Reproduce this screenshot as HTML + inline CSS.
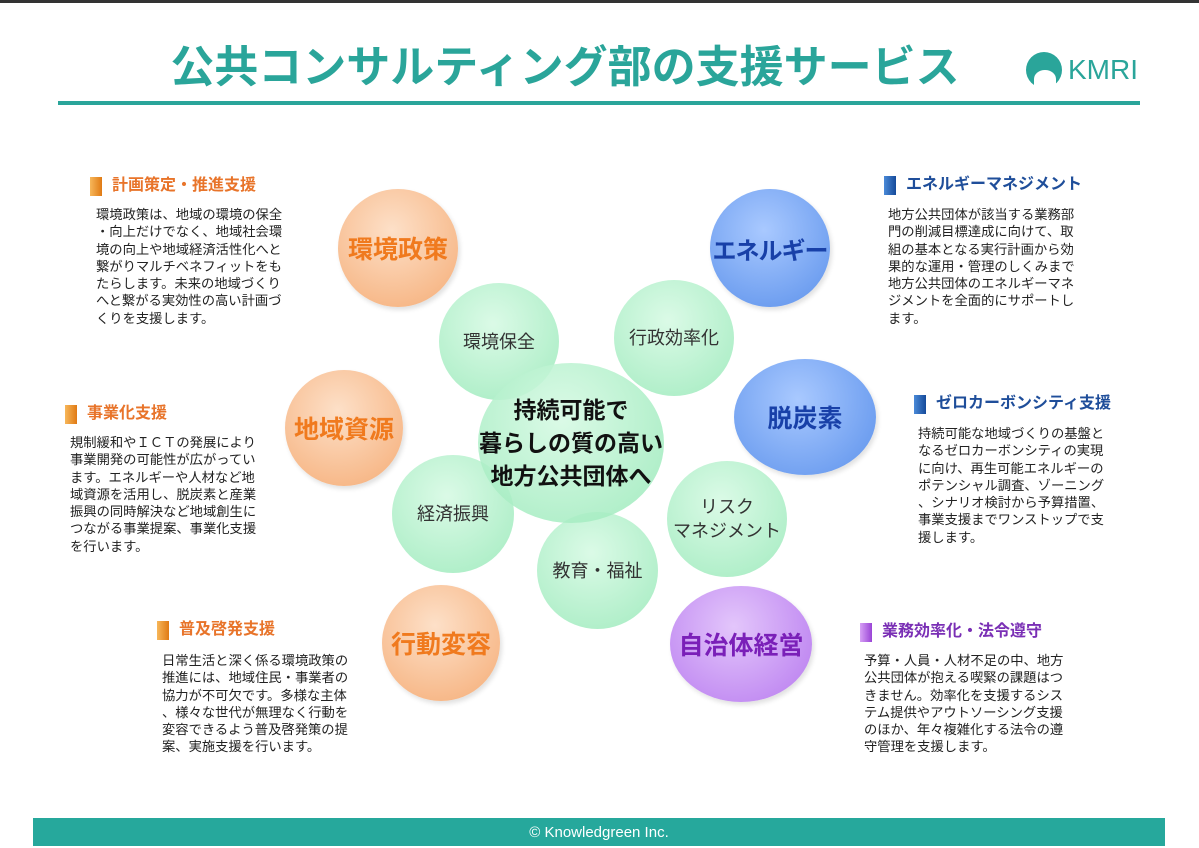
<!DOCTYPE html>
<html><head><meta charset="utf-8"><style>
*{margin:0;padding:0;box-sizing:border-box}
body{width:1199px;height:846px;background:#fff;position:relative;overflow:hidden;font-family:"Liberation Sans","Noto Sans CJK JP",sans-serif;}
.top{position:absolute;left:0;top:0;width:1199px;height:3px;background:#333}
.title{position:absolute;left:100px;width:930px;top:38px;text-align:center;font-size:44px;font-weight:bold;color:#2aa59a;line-height:60px}
.logo{position:absolute;left:1026px;top:52px;width:36px;height:36px;border-radius:50%;background:#2aa59a}
.logo:after{content:"";position:absolute;left:8px;top:18px;width:22px;height:18px;border-radius:50% 50% 0 0;background:#fff}
.logot{position:absolute;left:1068px;top:52px;font-size:28px;color:#2aa59a;line-height:36px}
.rule{position:absolute;left:58px;top:101px;width:1082px;height:4px;background:#2aa59a}
.foot{position:absolute;left:33px;top:818px;width:1132px;height:28px;background:#26a89c;color:#fff;text-align:center;font-size:15px;line-height:30px}
.c{position:absolute;border-radius:50%;display:flex;align-items:center;justify-content:center;text-align:center;font-weight:bold;white-space:nowrap}
.o{background:radial-gradient(circle at 45% 35%,#fde0c8,#f7b98a 75%,#eea876);color:#f07a1e;font-size:25px;box-shadow:2px 3px 5px rgba(0,0,0,.12)}
.b{background:radial-gradient(circle at 45% 35%,#a9c9ff,#6f9ff0 75%,#5c8de6);color:#1840a8;font-size:25px;box-shadow:2px 3px 5px rgba(0,0,0,.12)}
.p{background:radial-gradient(circle at 45% 35%,#e3c6fb,#c28cf2 75%,#b278ea);color:#7a1fb8;font-size:25px;box-shadow:2px 3px 5px rgba(0,0,0,.12)}
.g{background:radial-gradient(circle at 45% 35%,rgba(215,250,228,.9),rgba(160,235,190,.85) 80%);color:#333;font-weight:normal;font-size:18px;line-height:24px}
.h{position:absolute;font-size:16px;font-weight:bold;line-height:20px;padding-left:22px}
.h:before{content:"";position:absolute;left:0;top:1px;width:12px;height:19px}
.ho{color:#e8742a}.ho:before{background:linear-gradient(90deg,#f7b75a,#e07a14)}
.hb{color:#1f4e9a}.hb:before{background:linear-gradient(90deg,#4a8ad8,#154a9a)}
.hp{color:#7a2fb5}.hp:before{background:linear-gradient(90deg,#d6a0f5,#9a44d6)}
.t{position:absolute;font-size:13.3px;line-height:17.3px;color:#222;white-space:nowrap}
</style></head><body>
<div class="top"></div>
<div class="title">公共コンサルティング部の支援サービス</div>
<div class="logo"></div><div class="logot">KMRI</div>
<div class="rule"></div>

<div class="c o" style="left:338px;top:189px;width:120px;height:118px">環境政策</div>
<div class="c o" style="left:285px;top:370px;width:118px;height:116px">地域資源</div>
<div class="c o" style="left:382px;top:585px;width:118px;height:116px">行動変容</div>
<div class="c b" style="left:710px;top:189px;width:120px;height:118px;font-size:24px;letter-spacing:-1px">エネルギー</div>
<div class="c b" style="left:734px;top:359px;width:142px;height:116px">脱炭素</div>
<div class="c p" style="left:670px;top:586px;width:142px;height:116px">自治体経営</div>

<div class="c g" style="left:439px;top:283px;width:120px;height:117px">環境保全</div>
<div class="c g" style="left:614px;top:280px;width:120px;height:116px">行政効率化</div>
<div class="c g" style="left:392px;top:455px;width:122px;height:118px">経済振興</div>
<div class="c g" style="left:667px;top:461px;width:120px;height:116px">リスク<br>マネジメント</div>
<div class="c g" style="left:537px;top:512px;width:121px;height:117px">教育・福祉</div>
<div class="c g" style="left:478px;top:363px;width:186px;height:160px;font-weight:bold;font-size:23px;line-height:33px;color:#111">持続可能で<br>暮らしの質の高い<br>地方公共団体へ</div>

<div class="h ho" style="left:90px;top:176px">計画策定・推進支援</div>
<div class="t" style="left:96px;top:206px">環境政策は、地域の環境の保全<br>・向上だけでなく、地域社会環<br>境の向上や地域経済活性化へと<br>繋がりマルチベネフィットをも<br>たらします。未来の地域づくり<br>へと繋がる実効性の高い計画づ<br>くりを支援します。</div>

<div class="h ho" style="left:65px;top:404px">事業化支援</div>
<div class="t" style="left:70px;top:434px">規制緩和やＩＣＴの発展により<br>事業開発の可能性が広がってい<br>ます。エネルギーや人材など地<br>域資源を活用し、脱炭素と産業<br>振興の同時解決など地域創生に<br>つながる事業提案、事業化支援<br>を行います。</div>

<div class="h ho" style="left:157px;top:620px">普及啓発支援</div>
<div class="t" style="left:162px;top:652px">日常生活と深く係る環境政策の<br>推進には、地域住民・事業者の<br>協力が不可欠です。多様な主体<br>、様々な世代が無理なく行動を<br>変容できるよう普及啓発策の提<br>案、実施支援を行います。</div>

<div class="h hb" style="left:884px;top:175px">エネルギーマネジメント</div>
<div class="t" style="left:888px;top:206px">地方公共団体が該当する業務部<br>門の削減目標達成に向けて、取<br>組の基本となる実行計画から効<br>果的な運用・管理のしくみまで<br>地方公共団体のエネルギーマネ<br>ジメントを全面的にサポートし<br>ます。</div>

<div class="h hb" style="left:914px;top:394px">ゼロカーボンシティ支援</div>
<div class="t" style="left:918px;top:425px">持続可能な地域づくりの基盤と<br>なるゼロカーボンシティの実現<br>に向け、再生可能エネルギーの<br>ポテンシャル調査、ゾーニング<br>、シナリオ検討から予算措置、<br>事業支援までワンストップで支<br>援します。</div>

<div class="h hp" style="left:860px;top:622px">業務効率化・法令遵守</div>
<div class="t" style="left:864px;top:652px">予算・人員・人材不足の中、地方<br>公共団体が抱える喫緊の課題はつ<br>きません。効率化を支援するシス<br>テム提供やアウトソーシング支援<br>のほか、年々複雑化する法令の遵<br>守管理を支援します。</div>

<div class="foot">© Knowledgreen Inc.</div>
</body></html>
